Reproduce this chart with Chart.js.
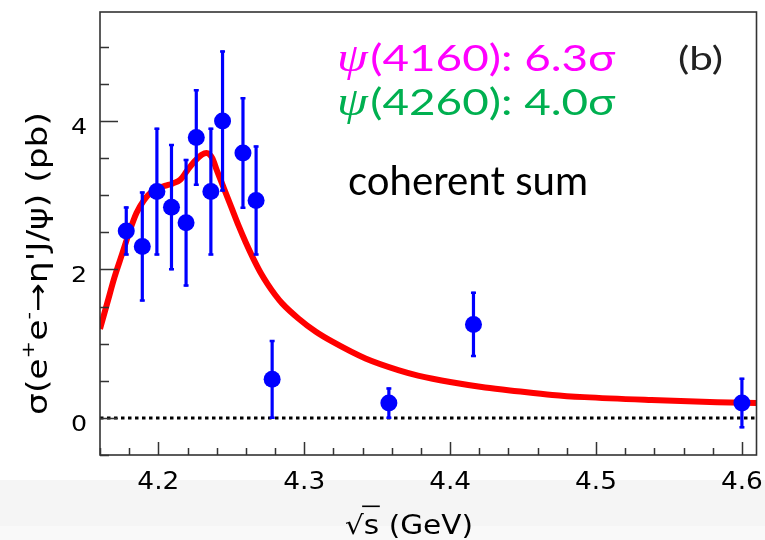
<!DOCTYPE html>
<html>
<head>
<meta charset="utf-8">
<script src="https://cdn.jsdelivr.net/npm/chart.js@4.4.1/dist/chart.umd.min.js"></script>
<style>
  body { margin: 0; background: #fff; }
  #wrap { width: 765px; height: 540px; }
</style>
</head>
<body>
<div id="wrap"><canvas id="xsecChart" width="765" height="540"></canvas></div>
<script>
// Dados: sigma(e+e- -> eta' J/psi) em pb
const energies = [4.178, 4.189, 4.199, 4.209, 4.219, 4.226, 4.236, 4.244, 4.258, 4.267, 4.278, 4.358, 4.416, 4.600];
const xsec     = [2.52, 2.31, 3.05, 2.84, 2.63, 3.78, 3.05, 4.00, 3.57, 2.93, 0.52, 0.20, 1.26, 0.20];
const xsecErr  = [0.33, 0.74, 0.86, 0.85, 0.86, 0.65, 0.86, 0.95, 0.75, 0.74, 0.53, 0.21, 0.44, 0.34];

// Curva do ajuste (soma coerente)
const fitE    = [4.160, 4.165, 4.170, 4.175, 4.180, 4.185, 4.190, 4.195, 4.200, 4.205, 4.210, 4.215, 4.220, 4.225,
                 4.230, 4.233, 4.237, 4.240, 4.245, 4.250, 4.255, 4.260, 4.265, 4.270, 4.275, 4.280, 4.285, 4.296,
                 4.308, 4.319, 4.342, 4.365, 4.378, 4.401, 4.424, 4.446, 4.470, 4.492, 4.538, 4.583, 4.610];
const fitXsec = [1.20, 1.55, 1.90, 2.20, 2.50, 2.76, 2.93, 3.04, 3.10, 3.13, 3.16, 3.21, 3.34, 3.46,
                 3.55, 3.57, 3.50, 3.34, 3.09, 2.84, 2.59, 2.36, 2.15, 1.96, 1.80, 1.66, 1.54, 1.34,
                 1.16, 1.03, 0.80, 0.64, 0.57, 0.48, 0.41, 0.36, 0.31, 0.28, 0.24, 0.21, 0.20];

// Linha pontilhada em zero
const zeroLineE = [4.16, 4.61];
const zeroLineY = [0, 0];

// Eixos
const xRange = [4.16, 4.61];
const yRange = [-0.5, 5.47];
const xTicks = [4.2, 4.3, 4.4, 4.5, 4.6];
const yTicks = [0, 2, 4];
const xMinorStep = 0.02;
const yMinorStep = 0.5;

// Textos
const xTitle = ['\u221As', ' (GeV)'];
const yTitle = [
    { t: '\u03C3(e' }, { t: '+', sup: true }, { t: 'e' }, { t: '-', sup: true },
    { t: '\u2192\u03B7\'J/\u03C8) (pb)' }
];
const notes = [
    { psi: '\u03C8', rest: '(4160): 6.3\u03C3', color: '#ff00ff' },
    { psi: '\u03C8', rest: '(4260): 4.0\u03C3', color: '#00b050' }
];

// Escreve um texto esticado na horizontal para ocupar a largura pedida
function fitText(ctx, txt, x, y, font, width, align) {
    ctx.font = font;
    const w = ctx.measureText(txt).width;
    const sx = width ? width / w : 1;
    ctx.save();
    ctx.translate(x, y);
    ctx.scale(sx, 1);
    ctx.textAlign = align || 'left';
    ctx.textBaseline = 'alphabetic';
    ctx.fillText(txt, 0, 0);
    ctx.restore();
}

const plotDeco = {
    id: 'plotDeco',
    beforeDraw(chart) {
        const ctx = chart.ctx;
        ctx.save();
        ctx.fillStyle = '#ffffff';
        ctx.fillRect(0, 0, chart.width, chart.height);
        ctx.fillStyle = '#f5f5f5';
        ctx.fillRect(0, 480, chart.width, 46);
        ctx.fillStyle = '#f9f9f9';
        ctx.fillRect(0, 526, chart.width, 14);
        ctx.restore();
    },
    // barras de erro desenhadas logo antes dos pontos
    beforeDatasetDraw(chart, args) {
        if (args.index !== 0) return;
        const ctx = chart.ctx, xs = chart.scales.x, ys = chart.scales.y;
        ctx.save();
        ctx.strokeStyle = '#0000ff';
        energies.forEach((e, i) => {
            const px = xs.getPixelForValue(e);
            const top = ys.getPixelForValue(xsec[i] + xsecErr[i]);
            const bot = ys.getPixelForValue(xsec[i] - xsecErr[i]);
            ctx.lineWidth = 3.2;
            ctx.beginPath();
            ctx.moveTo(px, top);
            ctx.lineTo(px, bot);
            ctx.stroke();
            ctx.lineWidth = 2.5;
            ctx.beginPath();
            ctx.moveTo(px - 2.5, top + 1); ctx.lineTo(px + 2.5, top + 1);
            ctx.moveTo(px - 2.5, bot - 1); ctx.lineTo(px + 2.5, bot - 1);
            ctx.stroke();
        });
        ctx.restore();
    },
    afterDraw(chart) {
        const ctx = chart.ctx, a = chart.chartArea;
        const xs = chart.scales.x, ys = chart.scales.y;
        ctx.save();

        // moldura
        ctx.strokeStyle = '#333333';
        ctx.lineWidth = 1.6;
        ctx.strokeRect(a.left, a.top, a.right - a.left, a.bottom - a.top);

        // marcas do eixo x (para dentro)
        ctx.lineWidth = 1.5;
        ctx.beginPath();
        for (let v = xRange[0]; v <= xRange[1] + 1e-9; v += xMinorStep) {
            const major = xTicks.some(t => Math.abs(t - v) < 1e-6);
            const px = Math.round(xs.getPixelForValue(v)) + 0.5;
            ctx.moveTo(px, a.bottom);
            ctx.lineTo(px, a.bottom - (major ? 13 : 7));
        }
        // marcas do eixo y
        for (let v = yRange[0]; v <= yRange[1]; v += yMinorStep) {
            const major = yTicks.some(t => Math.abs(t - v) < 1e-6);
            const py = Math.round(ys.getPixelForValue(v)) + 0.5;
            ctx.moveTo(a.left, py);
            ctx.lineTo(a.left + (major ? 18 : 9), py);
        }
        ctx.stroke();

        // rótulos dos eixos
        ctx.fillStyle = '#000000';
        xTicks.forEach(v => {
            const px = xs.getPixelForValue(v);
            ctx.font = '24px "DejaVu Sans"';
            const w = ctx.measureText(v.toFixed(1)).width * 1.1;
            fitText(ctx, v.toFixed(1), px, a.bottom + 34, '24px "DejaVu Sans"', w, 'center');
        });
        yTicks.forEach(v => {
            const py = ys.getPixelForValue(v);
            ctx.font = '22px "DejaVu Sans"';
            const w = ctx.measureText(String(v)).width * 1.15;
            fitText(ctx, String(v), a.left - 13, py + 13, '22px "DejaVu Sans"', w, 'right');
        });

        // título do eixo x: raiz de s com barra
        ctx.font = '26px "DejaVu Sans"';
        const wRoot = ctx.measureText(xTitle[0]).width;
        const wRest = ctx.measureText(xTitle[1]).width;
        const sxT = 128 / (wRoot + wRest);
        ctx.save();
        ctx.translate(345, 534);
        ctx.scale(sxT, 1);
        ctx.fillText(xTitle[0] + xTitle[1], 0, 0);
        ctx.fillRect(ctx.measureText('\u221A').width - 1.5, -28.5, ctx.measureText('s').width + 2, 1.6);
        ctx.restore();

        // título do eixo y (girado)
        ctx.save();
        ctx.translate(47, 263.5);
        ctx.rotate(-Math.PI / 2);
        const big = 28, small = 17;
        let total = 0;
        yTitle.forEach(s => {
            ctx.font = (s.sup ? small : big) + 'px "DejaVu Sans"';
            s.w = ctx.measureText(s.t).width;
            total += s.w;
        });
        const sy = 303 / total;
        ctx.scale(sy, 1);
        let cx = -total / 2;
        yTitle.forEach(s => {
            ctx.font = (s.sup ? small : big) + 'px "DejaVu Sans"';
            ctx.fillText(s.t, cx, s.sup ? -13 : 0);
            cx += s.w;
        });
        ctx.restore();

        // anotações
        notes.forEach((n, i) => {
            const base = 71 + i * 44;
            const fPsi = 'italic 40px "Liberation Serif"';
            const fRest = '37px Lato, "Noto Sans", sans-serif';
            ctx.font = fPsi;
            const w1 = ctx.measureText(n.psi).width;
            ctx.font = fRest;
            const w2 = ctx.measureText(n.rest).width;
            const s = 276 / (w1 + w2);
            ctx.save();
            ctx.fillStyle = n.color;
            ctx.translate(337, base);
            ctx.scale(s, 1);
            ctx.font = fPsi;
            ctx.fillText(n.psi, 0, 0);
            ctx.font = fRest;
            ctx.fillText(n.rest, w1 + 2, 0);
            ctx.restore();
        });
        ctx.fillStyle = '#222222';
        fitText(ctx, '(b)', 678, 70, '32px Lato, "Noto Sans", sans-serif', 45, 'left');
        ctx.fillStyle = '#000000';
        fitText(ctx, 'coherent sum', 348, 195, '40px Lato, "Noto Sans", sans-serif', 240, 'left');

        ctx.restore();
    }
};

const ctx = document.getElementById('xsecChart').getContext('2d');
new Chart(ctx, {
    type: 'scatter',
    data: {
        datasets: [
            {
                label: 'Dados',
                data: energies.map((e, i) => ({ x: e, y: xsec[i] })),
                backgroundColor: '#0000ff',
                borderWidth: 0,
                pointRadius: 8.5,
                showLine: false
            },
            {
                label: 'Soma coerente',
                data: fitE.map((e, i) => ({ x: e, y: fitXsec[i] })),
                showLine: true,
                borderColor: '#ff0000',
                borderWidth: 6,
                pointRadius: 0,
                tension: 0.4,
                cubicInterpolationMode: 'monotone',
                borderJoinStyle: 'round',
                fill: false
            },
            {
                label: 'Zero',
                data: zeroLineE.map((e, i) => ({ x: e, y: zeroLineY[i] })),
                showLine: true,
                borderColor: '#000000',
                borderWidth: 3,
                borderDash: [3.5, 3.5],
                pointRadius: 0,
                fill: false
            }
        ]
    },
    options: {
        responsive: false,
        animation: false,
        layout: { padding: { left: 100, top: 12, right: 7, bottom: 85 } },
        plugins: { legend: { display: false }, tooltip: { enabled: false } },
        scales: {
            x: { type: 'linear', min: xRange[0], max: xRange[1], display: false },
            y: { type: 'linear', min: yRange[0], max: yRange[1], display: false }
        }
    },
    plugins: [plotDeco]
});
</script>
</body>
</html>
